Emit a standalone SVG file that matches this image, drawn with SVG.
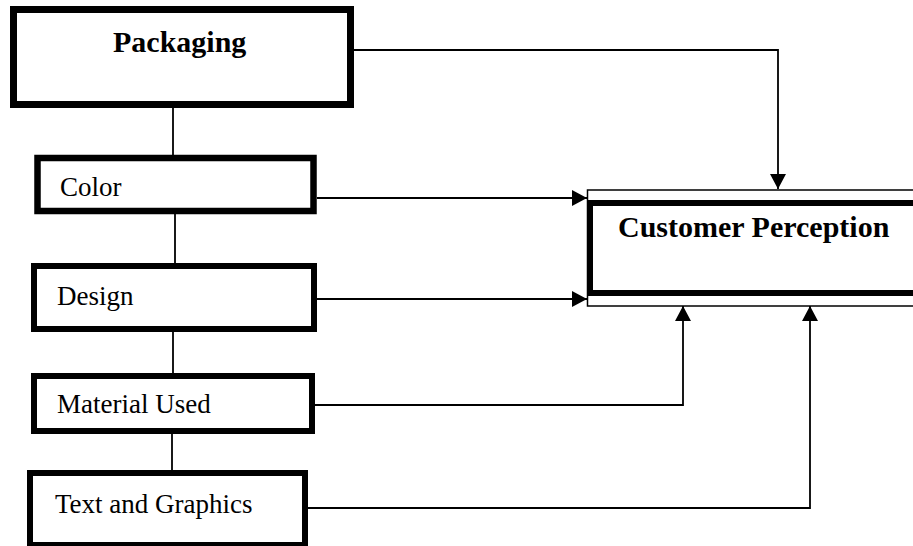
<svg xmlns="http://www.w3.org/2000/svg" width="913" height="546" viewBox="0 0 913 546">
<style>
.box{fill:#fff;stroke:#000}
.lbl{font-family:"Liberation Serif","Times New Roman",serif;font-size:27px;fill:#000}
.bold{font-family:"Liberation Serif","Times New Roman",serif;font-size:30px;font-weight:bold;fill:#000}
.conn{fill:none;stroke:#000;stroke-width:1.8}
</style>
<defs>
<marker id="arr" markerUnits="userSpaceOnUse" markerWidth="16" markerHeight="16" viewBox="0 0 16 16" refX="15" refY="8" orient="auto">
<path d="M0,0 L15,8 L0,16 Z" fill="#000"/>
</marker>
</defs>
<rect width="913" height="546" fill="#fff"/>
<g id="connectors">
<line class="conn" x1="173" y1="108" x2="173" y2="155"/>
<line class="conn" x1="175" y1="214" x2="175" y2="263"/>
<line class="conn" x1="173" y1="332" x2="173" y2="373"/>
<line class="conn" x1="172" y1="434" x2="172" y2="470"/>
<polyline class="conn" points="354,50 778,50 778,189" marker-end="url(#arr)"/>
<polyline class="conn" points="317,198 587,198" marker-end="url(#arr)"/>
<polyline class="conn" points="317,299 587,299" marker-end="url(#arr)"/>
<polyline class="conn" points="315,405 683,405 683,306" marker-end="url(#arr)"/>
<polyline class="conn" points="308,508 810,508 810,306" marker-end="url(#arr)"/>
</g>
<g id="packaging">
<rect class="box" x="13.5" y="9.5" width="337" height="95" stroke-width="7"/>
<text class="bold" x="113" y="52">Packaging</text>
</g>
<g id="color">
<rect class="box" x="37.5" y="158" width="276" height="53" stroke-width="6.5"/>
<text class="lbl" x="60" y="196">Color</text>
</g>
<g id="design">
<rect class="box" x="34" y="266" width="280" height="63" stroke-width="6"/>
<text class="lbl" x="57" y="305">Design</text>
</g>
<g id="material">
<rect class="box" x="34" y="376" width="278" height="55" stroke-width="6"/>
<text class="lbl" x="57" y="413">Material Used</text>
</g>
<g id="textgraphics">
<rect class="box" x="30" y="473" width="275" height="72" stroke-width="6"/>
<text class="lbl" x="55" y="513">Text and Graphics</text>
</g>
<g id="customer">
<rect class="box" x="587.5" y="190" width="340" height="116" stroke-width="1.5"/>
<rect class="box" x="590" y="203" width="340" height="90" stroke-width="6"/>
<text class="bold" x="618" y="237">Customer Perception</text>
</g>
</svg>
